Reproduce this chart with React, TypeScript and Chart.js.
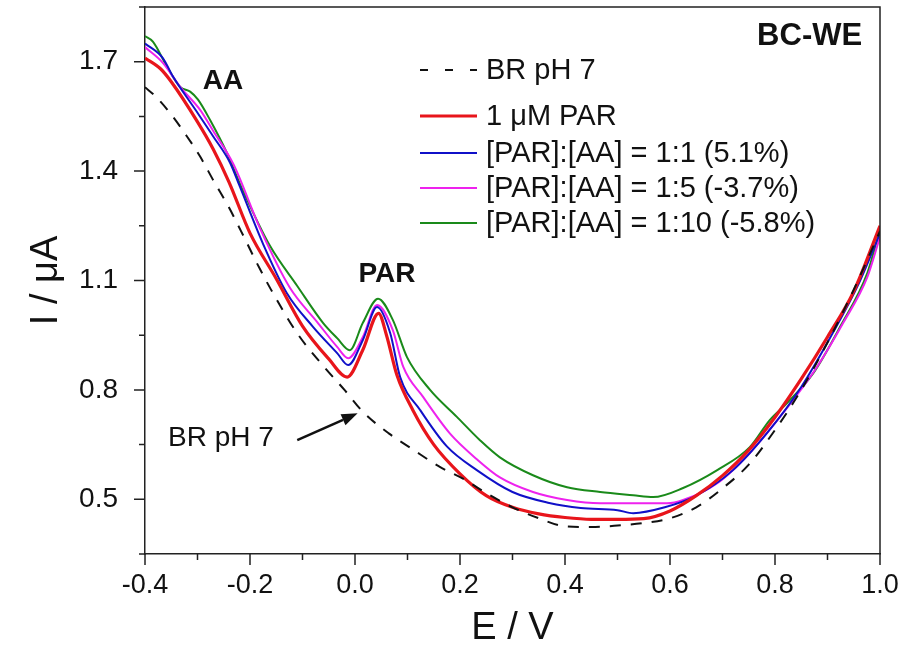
import React, { useEffect, useRef } from 'react';
import { Chart, registerables } from 'chart.js';

Chart.register(...registerables);

// ---- series labels ----
const seriesLabels = [
  'BR pH 7',
  '1 \u03bcM PAR',
  '[PAR]:[AA] = 1:1 (5.1%)',
  '[PAR]:[AA] = 1:5 (-3.7%)',
  '[PAR]:[AA] = 1:10 (-5.8%)',
];

// ---- BR pH 7 (blank) ----
const brE = [-0.4, -0.38, -0.35, -0.32, -0.295, -0.27, -0.24, -0.21, -0.187, -0.16, -0.11, -0.06, -0.02, 0.015, 0.065, 0.11, 0.16, 0.21, 0.25, 0.3, 0.35, 0.4, 0.45, 0.5, 0.55, 0.6, 0.65, 0.7, 0.75, 0.8, 0.85, 0.9, 0.95, 1.0];
const brI = [1.63, 1.605, 1.555, 1.495, 1.44, 1.375, 1.3, 1.215, 1.148, 1.075, 0.955, 0.865, 0.8, 0.74, 0.68, 0.637, 0.59, 0.553, 0.517, 0.478, 0.448, 0.426, 0.424, 0.428, 0.435, 0.448, 0.478, 0.53, 0.595, 0.69, 0.8, 0.93, 1.075, 1.235];

// ---- 1 uM PAR ----
const parE = [-0.4, -0.37, -0.35, -0.3, -0.27, -0.24, -0.2, -0.15, -0.1, -0.05, -0.015, 0.015, 0.045, 0.06, 0.08, 0.11, 0.15, 0.2, 0.25, 0.3, 0.35, 0.4, 0.45, 0.5, 0.55, 0.6, 0.65, 0.7, 0.75, 0.8, 0.85, 0.9, 0.95, 1.0];
const parI = [1.71, 1.68, 1.645, 1.535, 1.46, 1.37, 1.23, 1.105, 0.975, 0.885, 0.835, 0.91, 1.01, 0.95, 0.84, 0.745, 0.65, 0.57, 0.51, 0.478, 0.46, 0.45, 0.445, 0.445, 0.447, 0.468, 0.51, 0.565, 0.635, 0.725, 0.83, 0.945, 1.07, 1.25];

// ---- [PAR]:[AA] = 1:1 ----
const r1E = [-0.4, -0.366, -0.347, -0.3, -0.27, -0.238, -0.22, -0.175, -0.13, -0.08, -0.034, -0.013, 0.015, 0.042, 0.067, 0.086, 0.124, 0.175, 0.232, 0.3, 0.37, 0.43, 0.5, 0.53, 0.59, 0.65, 0.72, 0.785, 0.85, 0.91, 0.96, 1.0];
const r1I = [1.75, 1.71, 1.66, 1.56, 1.495, 1.423, 1.36, 1.2, 1.066, 0.973, 0.901, 0.868, 0.937, 1.027, 0.956, 0.835, 0.745, 0.645, 0.58, 0.52, 0.49, 0.476, 0.47, 0.462, 0.478, 0.51, 0.58, 0.682, 0.808, 0.956, 1.093, 1.23];

// ---- [PAR]:[AA] = 1:5 ----
const r5E = [-0.4, -0.366, -0.333, -0.295, -0.27, -0.232, -0.18, -0.124, -0.072, -0.034, -0.013, 0.015, 0.042, 0.072, 0.092, 0.13, 0.181, 0.232, 0.276, 0.339, 0.404, 0.467, 0.53, 0.594, 0.625, 0.69, 0.752, 0.815, 0.88, 0.93, 0.976, 1.0];
const r5I = [1.74, 1.697, 1.631, 1.568, 1.51, 1.42, 1.24, 1.08, 0.986, 0.918, 0.887, 0.945, 1.033, 0.964, 0.863, 0.78, 0.68, 0.61, 0.56, 0.52, 0.498, 0.489, 0.489, 0.489, 0.498, 0.544, 0.627, 0.736, 0.863, 0.984, 1.11, 1.22];

// ---- [PAR]:[AA] = 1:10 ----
const r10E = [-0.4, -0.385, -0.358, -0.333, -0.314, -0.299, -0.276, -0.244, -0.213, -0.162, -0.11, -0.061, -0.034, -0.01, 0.015, 0.044, 0.072, 0.099, 0.143, 0.194, 0.238, 0.276, 0.339, 0.404, 0.467, 0.53, 0.568, 0.625, 0.69, 0.752, 0.79, 0.823, 0.873, 0.924, 0.976, 1.0];
const r10I = [1.77, 1.755, 1.686, 1.631, 1.618, 1.596, 1.54, 1.45, 1.345, 1.195, 1.085, 0.984, 0.942, 0.909, 0.984, 1.05, 0.992, 0.89, 0.8, 0.726, 0.662, 0.615, 0.566, 0.533, 0.52, 0.511, 0.506, 0.531, 0.58, 0.643, 0.717, 0.764, 0.846, 0.973, 1.121, 1.24];

// ---- axes ----
const xTickValues = [-0.4, -0.3, -0.2, -0.1, 0.0, 0.1, 0.2, 0.3, 0.4, 0.5, 0.6, 0.7, 0.8, 0.9, 1.0];
const xTickLabeled = [-0.4, -0.2, 0.0, 0.2, 0.4, 0.6, 0.8, 1.0];
const yTickValues = [0.35, 0.5, 0.65, 0.8, 0.95, 1.1, 1.25, 1.4, 1.55, 1.7, 1.85];
const yTickLabeled = [0.5, 0.8, 1.1, 1.4, 1.7];
const xTitle = 'E / V';
const yTitle = 'I / \u03bcA';

const FONT = '"Liberation Sans", Arial, Helvetica, sans-serif';
const INK = '#111111';

const has = (arr: number[], v: number) => arr.some((a) => Math.abs(a - v) < 1e-6);
const pts = (xs: number[], ys: number[]) => xs.map((x, i) => ({ x, y: ys[i] }));

const decorPlugin = {
  id: 'decor',
  afterDraw(chart: any) {
    const { ctx, chartArea, scales } = chart;
    const xs = scales.x;
    const ys = scales.y;
    ctx.save();
    // frame (top & right)
    ctx.strokeStyle = '#222';
    ctx.lineWidth = 1.5;
    ctx.beginPath();
    ctx.moveTo(chartArea.left, chartArea.top);
    ctx.lineTo(chartArea.right, chartArea.top);
    ctx.lineTo(chartArea.right, chartArea.bottom);
    ctx.stroke();
    // outward ticks
    ctx.lineWidth = 1.5;
    ctx.beginPath();
    xs.ticks.forEach((t: any) => {
      const px = xs.getPixelForValue(t.value);
      const len = has(xTickLabeled, t.value) ? 11 : 6;
      ctx.moveTo(px, chartArea.bottom);
      ctx.lineTo(px, chartArea.bottom + len);
    });
    ys.ticks.forEach((t: any) => {
      const py = ys.getPixelForValue(t.value);
      const len = has(yTickLabeled, t.value) ? 11 : 6;
      ctx.moveTo(chartArea.left, py);
      ctx.lineTo(chartArea.left - len, py);
    });
    ctx.stroke();

    // legend
    const rowsY = [70, 116, 153, 188, 223];
    const lx0 = 420;
    const lx1 = 477;
    chart.data.datasets.forEach((ds: any, i: number) => {
      const y = rowsY[i];
      ctx.save();
      ctx.strokeStyle = ds.borderColor;
      ctx.lineWidth = ds.borderWidth;
      if (ds.borderDash && ds.borderDash.length) ctx.setLineDash([8, 17]);
      ctx.beginPath();
      ctx.moveTo(lx0, y);
      ctx.lineTo(lx1, y);
      ctx.stroke();
      ctx.restore();
      ctx.fillStyle = INK;
      ctx.font = `29px ${FONT}`;
      ctx.textBaseline = 'middle';
      ctx.textAlign = 'left';
      ctx.fillText(ds.label, 486, y + 1);
    });

    // annotations
    ctx.fillStyle = INK;
    ctx.textBaseline = 'middle';
    ctx.font = `bold 31px ${FONT}`;
    ctx.textAlign = 'right';
    ctx.fillText('BC-WE', xs.getPixelForValue(0.966), ys.getPixelForValue(1.77));
    ctx.font = `bold 28px ${FONT}`;
    ctx.textAlign = 'left';
    ctx.fillText('AA', xs.getPixelForValue(-0.29), ys.getPixelForValue(1.645));
    ctx.textAlign = 'center';
    ctx.fillText('PAR', xs.getPixelForValue(0.061), ys.getPixelForValue(1.118));
    ctx.font = `28px ${FONT}`;
    ctx.textAlign = 'left';
    ctx.fillText('BR pH 7', xs.getPixelForValue(-0.356), ys.getPixelForValue(0.668));

    // arrow
    const ax0 = xs.getPixelForValue(-0.11);
    const ay0 = ys.getPixelForValue(0.662);
    const ax1 = xs.getPixelForValue(0.005);
    const ay1 = ys.getPixelForValue(0.736);
    const ang = Math.atan2(ay1 - ay0, ax1 - ax0);
    const head = 16;
    const hw = 6;
    ctx.strokeStyle = INK;
    ctx.lineWidth = 2.5;
    ctx.beginPath();
    ctx.moveTo(ax0, ay0);
    ctx.lineTo(ax1 - head * Math.cos(ang), ay1 - head * Math.sin(ang));
    ctx.stroke();
    ctx.beginPath();
    ctx.moveTo(ax1, ay1);
    ctx.lineTo(ax1 - head * Math.cos(ang) + hw * Math.sin(ang), ay1 - head * Math.sin(ang) - hw * Math.cos(ang));
    ctx.lineTo(ax1 - head * Math.cos(ang) - hw * Math.sin(ang), ay1 - head * Math.sin(ang) + hw * Math.cos(ang));
    ctx.closePath();
    ctx.fill();
    ctx.restore();
  },
};

export default function App() {
  const ref = useRef<HTMLCanvasElement | null>(null);
  useEffect(() => {
    if (!ref.current) return;
    const mk = (i: number, xs: number[], ys: number[], color: string, width: number, dash: number[] = []) => ({
      label: seriesLabels[i],
      data: pts(xs, ys),
      borderColor: color,
      backgroundColor: color,
      borderWidth: width,
      borderDash: dash,
      pointRadius: 0,
      fill: false,
      tension: 0.4,
      cubicInterpolationMode: 'monotone' as const,
    });
    const chart = new Chart(ref.current, {
      type: 'line',
      data: {
        datasets: [
          mk(0, brE, brI, '#111111', 2, [11, 10]),
          mk(1, parE, parI, '#e8151b', 3.2),
          mk(2, r1E, r1I, '#1010c8', 2),
          mk(3, r5E, r5I, '#ee22ee', 2),
          mk(4, r10E, r10I, '#1a8a1a', 2),
        ],
      },
      options: {
        responsive: false,
        animation: false,
        events: [],
        layout: { padding: { top: 7, right: 27, left: 0, bottom: 0 } },
        plugins: { legend: { display: false }, tooltip: { enabled: false }, title: { display: false } },
        scales: {
          x: {
            type: 'linear',
            min: -0.4,
            max: 1.0,
            afterBuildTicks: (s: any) => {
              s.ticks = xTickValues.map((v) => ({ value: v }));
            },
            afterFit: (s: any) => {
              s.height = 99;
              s.paddingLeft = 0;
              s.paddingRight = 0;
            },
            grid: { display: true, drawOnChartArea: false, drawTicks: true, tickLength: 11, tickColor: 'rgba(0,0,0,0)' },
            border: { display: true, color: '#222', width: 1.5 },
            ticks: {
              autoSkip: false,
              maxRotation: 0,
              padding: 4,
              color: INK,
              font: { family: FONT, size: 27 },
              callback: (v: any) => (has(xTickLabeled, Number(v)) ? Number(v).toFixed(1) : ''),
            },
            title: { display: true, text: xTitle, color: INK, font: { family: FONT, size: 38 }, padding: { top: 0, bottom: 2 } },
          },
          y: {
            type: 'linear',
            min: 0.35,
            max: 1.85,
            afterBuildTicks: (s: any) => {
              s.ticks = yTickValues.map((v) => ({ value: v }));
            },
            afterFit: (s: any) => {
              s.width = 145;
              s.paddingTop = 0;
              s.paddingBottom = 0;
            },
            grid: { display: true, drawOnChartArea: false, drawTicks: true, tickLength: 11, tickColor: 'rgba(0,0,0,0)' },
            border: { display: true, color: '#222', width: 1.5 },
            ticks: {
              autoSkip: false,
              padding: 16,
              color: INK,
              font: { family: FONT, size: 28 },
              callback: (v: any) => (has(yTickLabeled, Number(v)) ? Number(v).toFixed(1) : ''),
            },
            title: { display: true, text: yTitle, color: INK, font: { family: FONT, size: 38 }, padding: { top: 24, bottom: 0 } },
          },
        },
      },
      plugins: [decorPlugin],
    });
    return () => chart.destroy();
  }, []);
  return (
    <div style={{ position: 'fixed', left: 0, top: 0, width: 907, height: 653, background: '#fff' }}>
      <canvas ref={ref} width={907} height={653} style={{ display: 'block' }} />
    </div>
  );
}
